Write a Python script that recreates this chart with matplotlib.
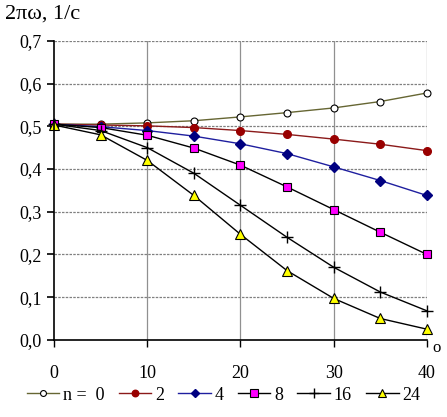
import matplotlib.pyplot as plt
from matplotlib.ticker import FuncFormatter

# Daten
x = [0, 5, 10, 15, 20, 25, 30, 35, 40]
n0 = [0.505, 0.505, 0.508, 0.513, 0.522, 0.532, 0.543, 0.558, 0.578]
n2 = [0.505, 0.503, 0.501, 0.497, 0.490, 0.481, 0.470, 0.458, 0.443]
n4 = [0.505, 0.499, 0.490, 0.477, 0.459, 0.436, 0.405, 0.373, 0.338]
n8 = [0.505, 0.497, 0.479, 0.449, 0.409, 0.358, 0.305, 0.252, 0.200]
n16 = [0.505, 0.490, 0.450, 0.390, 0.315, 0.240, 0.170, 0.112, 0.068]
n24 = [0.503, 0.480, 0.420, 0.338, 0.247, 0.162, 0.097, 0.050, 0.025]
labels = ["n =  0", "2", "4", "8", "16", "24"]

plt.rcParams['font.family'] = ['Liberation Serif', 'DejaVu Serif']
plt.rcParams['font.size'] = 13

fig = plt.figure(figsize=(4.47, 4.17), dpi=100)
ax = fig.add_axes([0.121, 0.185, 0.834, 0.717])

styles = [
    (n0, dict(color='#666633', marker='o', mfc='white', mec='black', ms=5, mew=0.8)),
    (n2, dict(color='#8b1a1a', marker='o', mfc='#990000', mec='#990000', ms=5.5)),
    (n4, dict(color='#1f1f9f', marker='D', mfc='#000080', mec='#000080', ms=5)),
    (n8, dict(color='black', marker='s', mfc='#ff00ff', mec='black', ms=6, mew=0.8)),
    (n16, dict(color='black', marker='+', mfc='black', mec='black', ms=8, mew=1.0)),
    (n24, dict(color='black', marker='^', mfc='#ffff00', mec='black', ms=6.5, mew=0.8)),
]
for (y, st), lab in zip(styles, labels):
    ax.plot(x, y, lw=1.0, label=lab, clip_on=False, **st)

ax.set_xlim(0, 40)
ax.set_ylim(0, 0.7)
ax.set_xticks([0, 10, 20, 30, 40])
ax.set_yticks([0, 0.1, 0.2, 0.3, 0.4, 0.5, 0.6, 0.7])
ax.yaxis.set_major_formatter(FuncFormatter(lambda v, p: f"{v:.1f}".replace('.', ',')))

# Gitter
for yv in [0.1, 0.2, 0.3, 0.4, 0.5, 0.6, 0.7]:
    ax.axhline(yv, color='#808080', lw=0.9, ls=(0, (2, 1)), zorder=0)
for xv in [10, 20, 30, 40]:
    ax.axvline(xv, color='#909090', lw=0.9, zorder=0)

ax.spines['top'].set_visible(False)
ax.spines['right'].set_visible(False)
ax.spines['left'].set_linewidth(1.2)
ax.spines['bottom'].set_linewidth(1.2)
ax.tick_params(axis='y', direction='out', length=5, width=1.2, pad=4)
ax.tick_params(axis='x', direction='out', length=5, width=1.0, pad=13)

fig.text(0.012, 0.99, "2πω, 1/с", ha='left', va='top', fontsize=16)
fig.text(0.968, 0.165, "o", ha='left', va='center', fontsize=12)

leg = fig.legend(loc='center', bbox_to_anchor=(0.5, 0.052), ncol=6, frameon=False,
                 handlelength=1.8, columnspacing=0.8, handletextpad=0.2, fontsize=13,
                 markerscale=0.85)

fig.savefig("out.png", dpi=100)
